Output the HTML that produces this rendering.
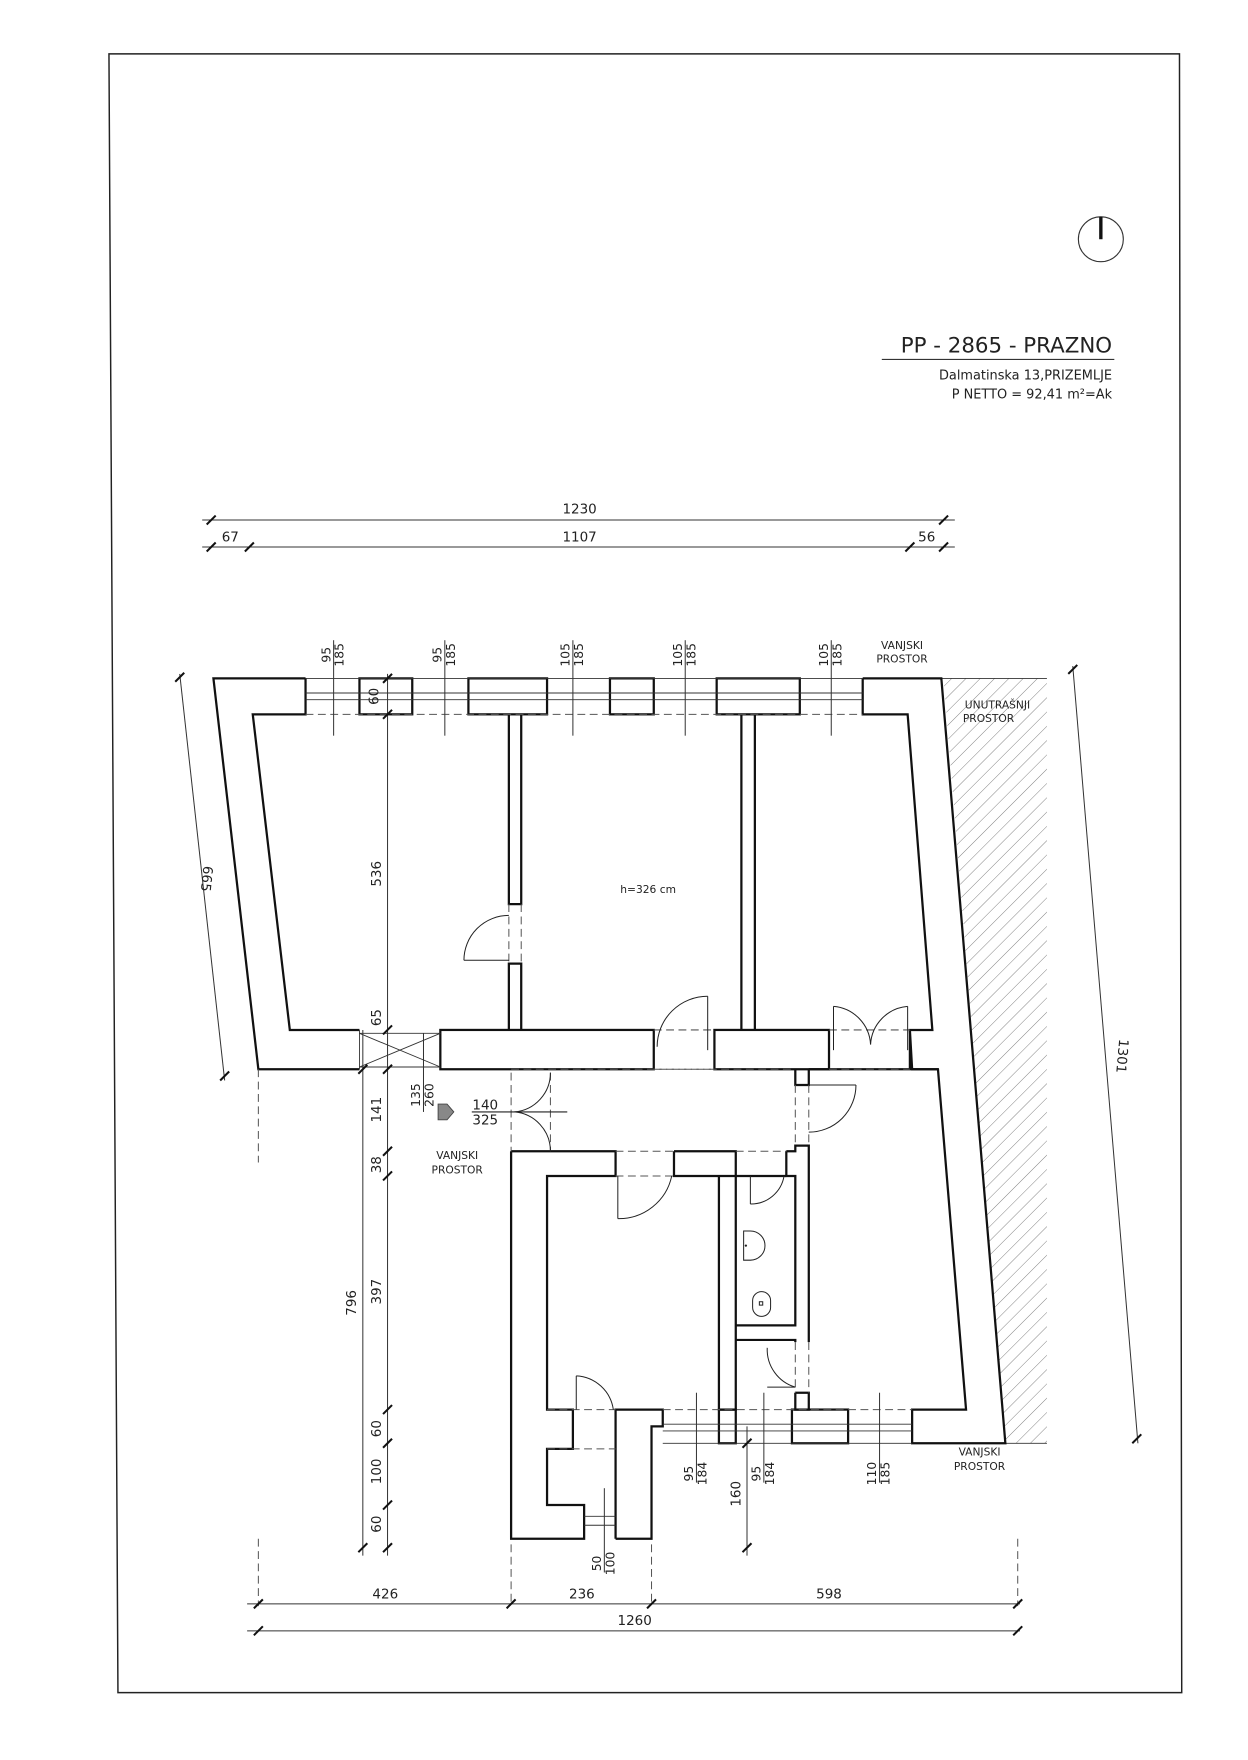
<!DOCTYPE html>
<html><head><meta charset="utf-8"><style>
html,body{margin:0;padding:0;background:#fff;}
svg{display:block;}
text{font-family:"DejaVu Sans","Liberation Sans",sans-serif;fill:#222;}
</style></head><body>
<svg width="1248" height="1760" viewBox="0 0 1111 1567" preserveAspectRatio="none" xmlns="http://www.w3.org/2000/svg">
<defs>
<pattern id="h" patternUnits="userSpaceOnUse" width="9" height="9" patternTransform="rotate(45)">
<line x1="0" y1="0" x2="0" y2="9" stroke="#777" stroke-width="0.8"/>
</pattern>
</defs>
<!-- frame -->
<polygon points="97,48 1050,48 1052,1507 105,1507" fill="none" stroke="#222" stroke-width="1.3"/>
<!-- compass -->
<circle cx="980" cy="213" r="20" fill="none" stroke="#333" stroke-width="1"/>
<line x1="980" y1="193" x2="980" y2="213" stroke="#111" stroke-width="3"/>
<!-- title -->
<text x="990" y="314" font-size="19" text-anchor="end">PP - 2865 - PRAZNO</text>
<line x1="785" y1="320" x2="992" y2="320" stroke="#333" stroke-width="1"/>
<text x="990" y="338" font-size="11.5" text-anchor="end">Dalmatinska 13,PRIZEMLJE</text>
<text x="990" y="355" font-size="11.5" text-anchor="end">P NETTO = 92,41 m²=Ak</text>

<g stroke="#333" stroke-width="0.9" fill="none">
<!-- top dims -->
<line x1="180" y1="463" x2="850" y2="463"/>
<line x1="180" y1="487" x2="850" y2="487"/>
</g>
<g stroke="#111" stroke-width="1.8">
<line x1="184" y1="467" x2="192" y2="459"/><line x1="836" y1="467" x2="844" y2="459"/>
<line x1="184" y1="491" x2="192" y2="483"/><line x1="218" y1="491" x2="226" y2="483"/>
<line x1="806" y1="491" x2="814" y2="483"/><line x1="836" y1="491" x2="844" y2="483"/>
</g>
<g font-size="12" text-anchor="middle">
<text x="516" y="457">1230</text>
<text x="205" y="482">67</text>
<text x="516" y="482">1107</text>
<text x="825" y="482">56</text>
</g>

<!-- hatch -->
<polygon points="840,604 932,604 932,1285 895,1285" fill="url(#h)"/>
<line x1="838" y1="604" x2="932" y2="604" stroke="#333" stroke-width="0.8"/>
<line x1="895" y1="1285" x2="932" y2="1285" stroke="#333" stroke-width="0.8"/>

<g fill="none" stroke="#111" stroke-width="2">
<!-- upper outer left wall -->
<polyline points="272,604 190,604 230,952 320,952"/>
<polyline points="272,604 272,636 225,636 258,917 320,917"/>
<!-- piers -->
<rect x="320" y="604" width="47" height="32"/>
<rect x="417" y="604" width="70" height="32"/>
<rect x="543" y="604" width="39" height="32"/>
<rect x="638" y="604" width="74" height="32"/>
<!-- right top block & outer right -->
<polyline points="768,604 838,604 895,1285 812,1285 812,1255 860,1255 835,952 812,952 810,917 830,917 808,636 768,636 768,604"/>
<!-- bottom wall of upper part -->
<rect x="392" y="917" width="190" height="35"/>
<rect x="636" y="917" width="102" height="35"/>
<line x1="810" y1="917" x2="810" y2="952"/>
<!-- partitions -->
<polyline points="453,636 453,805 464,805 464,636"/>
<polyline points="453,917 453,858 464,858 464,917"/>
<polyline points="660,636 660,917"/><polyline points="672,636 672,917"/>
<!-- lower block -->
<polyline points="455,1025 455,1370 520,1370 520,1340 487,1340 487,1290 510,1290 510,1255 487,1255 487,1047 548,1047 548,1025 455,1025"/>
<polyline points="548,1370 580,1370 580,1270 590,1270 590,1255 548,1255 548,1370"/>
<polyline points="600,1025 655,1025 655,1047 600,1047 600,1025"/>
<polyline points="640,1047 640,1255 655,1255 655,1047"/>
<polyline points="655,1047 700,1047"/>
<polyline points="700,1025 700,1047 708,1047 708,1180 655,1180"/>
<polyline points="655,1193 708,1193 708,1195"/>
<polyline points="700,1025 708,1025 708,1020 720,1020 720,1195"/>
<polyline points="708,952 708,966 720,966 720,952"/>
<polyline points="708,1240 720,1240 720,1255 708,1255 708,1240"/>
<rect x="640" y="1255" width="15" height="30"/>
<rect x="705" y="1255" width="50" height="30"/>
<line x1="720" y1="952" x2="835" y2="952"/>
</g>
<!-- windows -->
<g stroke="#333" stroke-width="0.8">
<line x1="272" y1="604" x2="768" y2="604"/>
<line x1="272" y1="617" x2="768" y2="617"/><line x1="272" y1="623" x2="768" y2="623"/>
<line x1="590" y1="1285" x2="812" y2="1285"/>
<line x1="590" y1="1268" x2="812" y2="1268"/><line x1="590" y1="1274" x2="812" y2="1274"/>
<line x1="520" y1="1350" x2="548" y2="1350"/><line x1="520" y1="1358" x2="548" y2="1358"/>
<!-- X -->
<line x1="320" y1="920" x2="392" y2="950"/><line x1="320" y1="950" x2="392" y2="920"/>
<line x1="320" y1="920" x2="392" y2="920"/><line x1="320" y1="950" x2="392" y2="950"/>
<line x1="320" y1="917" x2="320" y2="952"/>
</g>
<!-- dashed -->
<g stroke="#555" stroke-width="0.9" stroke-dasharray="7,4" fill="none">
<line x1="272" y1="636" x2="768" y2="636"/>
<line x1="590" y1="1255" x2="812" y2="1255"/>
<line x1="453" y1="805" x2="453" y2="858"/><line x1="464" y1="805" x2="464" y2="858"/>
<line x1="582" y1="917" x2="636" y2="917"/><line x1="582" y1="952" x2="636" y2="952"/>
<line x1="738" y1="917" x2="810" y2="917"/><line x1="738" y1="952" x2="810" y2="952"/>
<line x1="230" y1="952" x2="230" y2="1035"/>
<line x1="455" y1="955" x2="455" y2="1025"/><line x1="490" y1="955" x2="490" y2="1025"/>
<line x1="455" y1="952" x2="708" y2="952"/>
<line x1="548" y1="1025" x2="600" y2="1025"/><line x1="548" y1="1047" x2="600" y2="1047"/>
<line x1="655" y1="1025" x2="700" y2="1025"/>
<line x1="708" y1="966" x2="708" y2="1020"/><line x1="720" y1="966" x2="720" y2="1020"/>
<line x1="708" y1="1195" x2="708" y2="1240"/><line x1="720" y1="1195" x2="720" y2="1240"/>
<line x1="487" y1="1255" x2="548" y2="1255"/><line x1="487" y1="1290" x2="548" y2="1290"/>
<line x1="230" y1="1370" x2="230" y2="1430"/><line x1="455" y1="1375" x2="455" y2="1430"/>
<line x1="580" y1="1375" x2="580" y2="1430"/><line x1="906" y1="1370" x2="906" y2="1430"/>
</g>
<!-- doors -->
<g fill="none" stroke="#222" stroke-width="0.9">
<line x1="413" y1="855" x2="453" y2="855"/><path d="M413,855 A40,40 0 0 1 453,815"/>
<line x1="630" y1="887" x2="630" y2="935"/><path d="M630,887 A45,45 0 0 0 585,932"/>
<line x1="742" y1="896" x2="742" y2="935"/><path d="M742,896 A36,36 0 0 1 775,930"/>
<line x1="808" y1="896" x2="808" y2="935"/><path d="M808,896 A36,36 0 0 0 775,930"/>
<path d="M490,955 A35,35 0 0 1 458,990"/><path d="M490,1025 A35,35 0 0 0 458,990"/>
<line x1="420" y1="990" x2="505" y2="990"/>
<line x1="550" y1="1047" x2="550" y2="1085"/><path d="M550,1085 A48,48 0 0 0 598,1047"/>
<line x1="668" y1="1047" x2="668" y2="1072"/><path d="M668,1072 A30,30 0 0 0 698,1047"/>
<line x1="720" y1="966" x2="762" y2="966"/><path d="M762,966 A42,42 0 0 1 720,1008"/>
<line x1="683" y1="1235" x2="708" y2="1235"/><path d="M683,1200 A35,35 0 0 0 708,1235"/>
<line x1="513" y1="1225" x2="513" y2="1255"/><path d="M513,1225 A35,35 0 0 1 546,1255"/>
<!-- sanitary -->
<path d="M662,1096 L668,1096 A13,13 0 0 1 668,1122 L662,1122 Z"/>
<rect x="670" y="1150" width="16" height="22" rx="8"/>
<rect x="676" y="1159" width="3" height="3"/>
</g>
<circle cx="664" cy="1109" r="1" fill="#222"/>
<!-- stair arrow -->
<polygon points="390,983 398,983 404,990 398,997 390,997" fill="#888" stroke="#444" stroke-width="0.8"/>

<!-- dimension lines -->
<g stroke="#333" stroke-width="0.9" fill="none">
<line x1="160" y1="600" x2="200" y2="962"/>
<line x1="955" y1="593" x2="1013" y2="1285"/>
<line x1="345" y1="600" x2="345" y2="1385"/>
<line x1="323" y1="917" x2="323" y2="1385"/>
<line x1="377" y1="920" x2="377" y2="990"/>
<line x1="665" y1="1270" x2="665" y2="1385"/>
<line x1="297" y1="570" x2="297" y2="655"/><line x1="396" y1="570" x2="396" y2="655"/>
<line x1="510" y1="570" x2="510" y2="655"/><line x1="610" y1="570" x2="610" y2="655"/>
<line x1="740" y1="570" x2="740" y2="655"/>
<line x1="620" y1="1240" x2="620" y2="1320"/><line x1="680" y1="1240" x2="680" y2="1320"/>
<line x1="783" y1="1240" x2="783" y2="1320"/>
<line x1="538" y1="1325" x2="538" y2="1400"/>
<line x1="220" y1="1428" x2="908" y2="1428"/>
<line x1="220" y1="1452" x2="908" y2="1452"/>
</g>
<g stroke="#111" stroke-width="1.8">
<line x1="156" y1="607" x2="164" y2="599"/><line x1="196" y1="962" x2="204" y2="954"/>
<line x1="951" y1="600" x2="959" y2="592"/><line x1="1008" y1="1285" x2="1016" y2="1277"/>
<line x1="341" y1="608" x2="349" y2="600"/><line x1="341" y1="640" x2="349" y2="632"/>
<line x1="341" y1="921" x2="349" y2="913"/><line x1="341" y1="956" x2="349" y2="948"/>
<line x1="319" y1="956" x2="327" y2="948"/>
<line x1="341" y1="1029" x2="349" y2="1021"/><line x1="341" y1="1051" x2="349" y2="1043"/>
<line x1="341" y1="1259" x2="349" y2="1251"/><line x1="341" y1="1289" x2="349" y2="1281"/>
<line x1="341" y1="1344" x2="349" y2="1336"/><line x1="341" y1="1382" x2="349" y2="1374"/>
<line x1="319" y1="1382" x2="327" y2="1374"/>
<line x1="661" y1="1289" x2="669" y2="1281"/><line x1="661" y1="1382" x2="669" y2="1374"/>
<line x1="226" y1="1432" x2="234" y2="1424"/><line x1="451" y1="1432" x2="459" y2="1424"/>
<line x1="576" y1="1432" x2="584" y2="1424"/><line x1="902" y1="1432" x2="910" y2="1424"/>
<line x1="226" y1="1456" x2="234" y2="1448"/><line x1="902" y1="1456" x2="910" y2="1448"/>
</g>
<g font-size="12" text-anchor="middle">
<text transform="translate(180,782) rotate(96)">665</text>
<text transform="translate(995,940) rotate(95)">1301</text>
<text transform="translate(337,620) rotate(-90)">60</text>
<text transform="translate(339,778) rotate(-90)">536</text>
<text transform="translate(339,906) rotate(-90)">65</text>
<text transform="translate(339,988) rotate(-90)">141</text>
<text transform="translate(339,1037) rotate(-90)">38</text>
<text transform="translate(339,1150) rotate(-90)">397</text>
<text transform="translate(317,1160) rotate(-90)">796</text>
<text transform="translate(339,1272) rotate(-90)">60</text>
<text transform="translate(339,1310) rotate(-90)">100</text>
<text transform="translate(339,1357) rotate(-90)">60</text>
<text transform="translate(659,1330) rotate(-90)">160</text>
<text x="432" y="988">140</text>
<text x="432" y="1001">325</text>
<text x="343" y="1423">426</text>
<text x="518" y="1423">236</text>
<text x="738" y="1423">598</text>
<text x="565" y="1447">1260</text>
</g>
<g font-size="11" text-anchor="middle">
<text transform="translate(294,583) rotate(-90)">95</text><text transform="translate(306,583) rotate(-90)">185</text>
<text transform="translate(393,583) rotate(-90)">95</text><text transform="translate(405,583) rotate(-90)">185</text>
<text transform="translate(507,583) rotate(-90)">105</text><text transform="translate(519,583) rotate(-90)">185</text>
<text transform="translate(607,583) rotate(-90)">105</text><text transform="translate(619,583) rotate(-90)">185</text>
<text transform="translate(737,583) rotate(-90)">105</text><text transform="translate(749,583) rotate(-90)">185</text>
<text transform="translate(374,975) rotate(-90)">135</text><text transform="translate(386,975) rotate(-90)">260</text>
<text transform="translate(617,1312) rotate(-90)">95</text><text transform="translate(629,1312) rotate(-90)">184</text>
<text transform="translate(677,1312) rotate(-90)">95</text><text transform="translate(689,1312) rotate(-90)">184</text>
<text transform="translate(780,1312) rotate(-90)">110</text><text transform="translate(792,1312) rotate(-90)">185</text>
<text transform="translate(535,1392) rotate(-90)">50</text><text transform="translate(547,1392) rotate(-90)">100</text>
</g>
<g font-size="9.5" text-anchor="middle">
<text x="803" y="578">VANJSKI</text><text x="803" y="590">PROSTOR</text>
<text x="888" y="631">UNUTRAŠNJI</text><text x="880" y="643">PROSTOR</text>
<text x="407" y="1032">VANJSKI</text><text x="407" y="1045">PROSTOR</text>
<text x="872" y="1296">VANJSKI</text><text x="872" y="1309">PROSTOR</text>
<text x="577" y="795">h=326 cm</text>
</g>
</svg>
</body></html>
